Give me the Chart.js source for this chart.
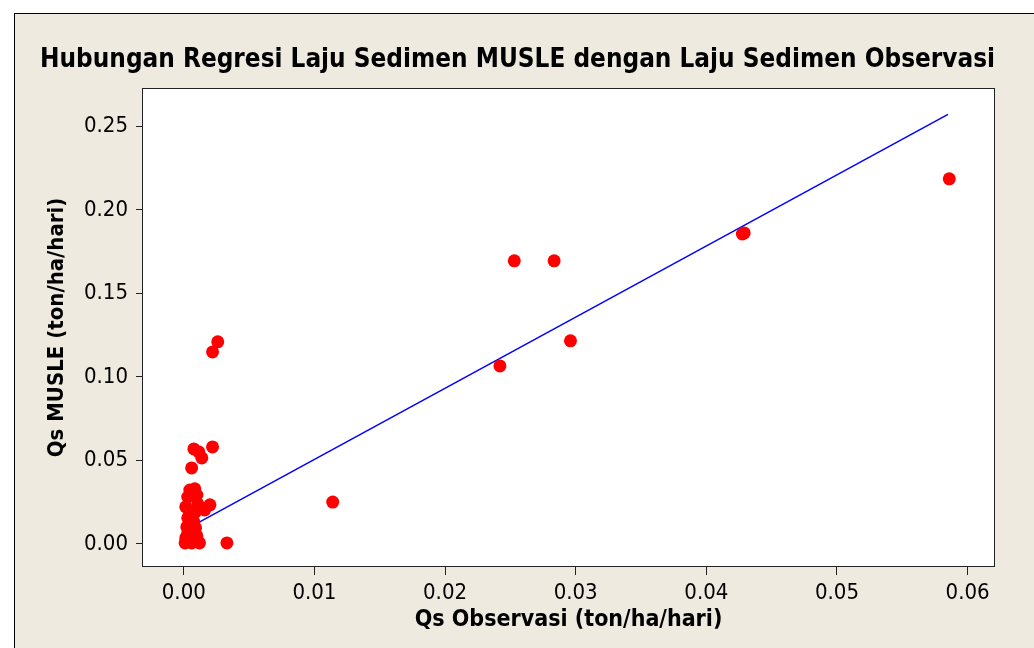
<!DOCTYPE html>
<html>
<head>
<meta charset="utf-8">
<script src="https://cdn.jsdelivr.net/npm/chart.js@4.4.0/dist/chart.umd.min.js"></script>
<style>
    html, body { margin: 0; padding: 0; background: #ffffff; }
    #wrap { position: relative; width: 1034px; height: 648px; overflow: hidden; }
    #panel {
        position: absolute; left: 14px; top: 13px; width: 1040px; height: 660px;
        background: #eeeae0; border: 1px solid #000;
    }
    #plot { position: absolute; left: 0; top: 0; }
</style>
</head>
<body>
<div id="wrap">
    <div id="panel"></div>
    <canvas id="plot" width="1034" height="648"></canvas>
</div>
<script>
// Observed vs MUSLE sediment rate (ton/ha/hari)
const qsObs = [
    0.0586, 0.04276, 0.0429, 0.0253, 0.02835, 0.0296, 0.0242, 0.0114, 0.0033,
    0.0026, 0.0022, 0.0022,
    0.00077, 0.00115, 0.00138, 0.0006, 0.00084,
    0.00046, 0.0010, 0.0003, 0.00107, 0.0020, 0.0016, 0.00015, 0.0009,
    0.0003, 0.00077, 0.00023, 0.0009, 0.0003, 0.00015, 0.0001, 0.0006,
    0.0012, 0.00046, 0.0010
];
const qsMusle = [
    0.2186, 0.1856, 0.1862, 0.1695, 0.1695, 0.1216, 0.1066, 0.0251, 0.0006,
    0.121, 0.115, 0.0581,
    0.0569, 0.0551, 0.0515, 0.0455, 0.033,
    0.0323, 0.0293, 0.0281, 0.024, 0.0234, 0.0204, 0.0222, 0.0192,
    0.0156, 0.0132, 0.0102, 0.0096, 0.0066, 0.0036, 0.0006, 0.0006,
    0.0006, 0.0024, 0.0048
];

// fitted regression line end points
const fitX = [0.0002, 0.0585];
const fitY = [0.00885, 0.2572];

const xTicks = [0.00, 0.01, 0.02, 0.03, 0.04, 0.05, 0.06];
const yTicks = [0.00, 0.05, 0.10, 0.15, 0.20, 0.25];

const FONT = '"DejaVu Sans Condensed", "DejaVu Sans", sans-serif';

// white plot area with a thin frame
const plotFrame = {
    id: 'plotFrame',
    beforeDatasetsDraw(chart) {
        const { ctx, chartArea: a } = chart;
        ctx.save();
        ctx.fillStyle = '#ffffff';
        ctx.fillRect(a.left, a.top, a.right - a.left, a.bottom - a.top);
        ctx.restore();
    },
    afterDatasetsDraw(chart) {
        const { ctx, chartArea: a } = chart;
        ctx.save();
        ctx.strokeStyle = '#222';
        ctx.lineWidth = 1;
        ctx.strokeRect(a.left + 0.5, a.top + 0.5, a.right - a.left - 1, a.bottom - a.top - 1);
        ctx.restore();
    }
};

const points = qsObs.map((x, i) => ({ x: x, y: qsMusle[i] }));
const fitLine = fitX.map((x, i) => ({ x: x, y: fitY[i] }));

new Chart(document.getElementById('plot'), {
    type: 'scatter',
    data: {
        datasets: [{
            type: 'line',
            data: fitLine,
            borderColor: '#0000ff',
            borderWidth: 1.5,
            pointRadius: 0,
            fill: false,
            order: 2
        }, {
            data: points,
            backgroundColor: '#ff0000',
            borderWidth: 0,
            pointRadius: 6.5,
            order: 1
        }]
    },
    options: {
        responsive: false,
        animation: false,
        layout: { padding: { left: 40, right: 39, top: 0, bottom: 0 } },
        plugins: {
            legend: { display: false },
            tooltip: { enabled: false },
            title: {
                display: true,
                text: 'Hubungan Regresi Laju Sedimen MUSLE dengan Laju Sedimen Observasi',
                color: '#000',
                font: { family: FONT, size: 26, weight: 'bold' },
                padding: { top: 45, bottom: 11.8 }
            }
        },
        scales: {
            x: {
                type: 'linear',
                min: -0.0032,
                max: 0.0621,
                afterBuildTicks(scale) { scale.ticks = xTicks.map(v => ({ value: v })); },
                afterFit(scale) { scale.height = 81; },
                grid: { drawOnChartArea: false, drawTicks: true, tickLength: 8, color: '#222' },
                border: { display: false },
                ticks: {
                    color: '#000',
                    padding: 5,
                    font: { family: FONT, size: 22 },
                    callback: v => v.toFixed(2)
                },
                title: {
                    display: true,
                    text: 'Qs Observasi (ton/ha/hari)',
                    color: '#000',
                    font: { family: FONT, size: 23, weight: 'bold' },
                    padding: { top: 0, bottom: 14 }
                }
            },
            y: {
                type: 'linear',
                min: -0.0138,
                max: 0.273,
                afterBuildTicks(scale) { scale.ticks = yTicks.map(v => ({ value: v })); },
                afterFit(scale) { scale.width = 102; },
                grid: { drawOnChartArea: false, drawTicks: true, tickLength: 6, color: '#222' },
                border: { display: false },
                ticks: {
                    color: '#000',
                    padding: 8,
                    font: { family: FONT, size: 22 },
                    callback: v => v.toFixed(2)
                },
                title: {
                    display: true,
                    text: 'Qs MUSLE (ton/ha/hari)',
                    color: '#000',
                    font: { family: FONT, size: 22, weight: 'bold' },
                    padding: { top: 4, bottom: 0 }
                }
            }
        }
    },
    plugins: [plotFrame]
});
</script>
</body>
</html>
